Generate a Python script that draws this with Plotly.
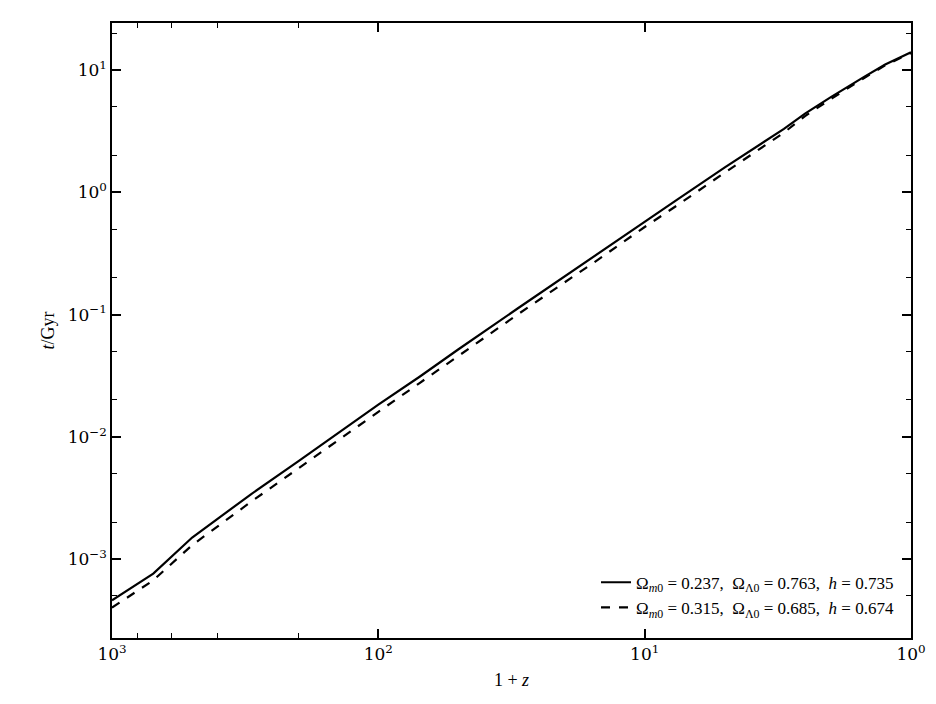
import plotly.graph_objects as go

one_plus_z = [1000, 700, 500, 300, 200, 141.6, 100, 70, 50, 30, 20, 15, 10, 7.5, 5, 4, 3, 2.5, 2, 1.5, 1.25, 1]
t_wmap = [4.6e-4, 7.6e-4, 1.5e-3, 3.4e-3, 6.3e-3, 1.08e-2, 1.83e-2, 3.1e-2, 5.2e-2, 0.112, 0.205, 0.315, 0.58, 0.88, 1.6, 2.2, 3.3, 4.4, 6.0, 8.8, 11.1, 14.0]
t_planck = [4.0e-4, 6.7e-4, 1.3e-3, 2.95e-3, 5.5e-3, 9.4e-3, 1.6e-2, 2.75e-2, 4.6e-2, 0.1, 0.183, 0.28, 0.52, 0.79, 1.45, 2.02, 3.08, 4.2, 5.8, 8.6, 10.95, 13.8]
label_wmap = "Ω<sub><i>m</i>0</sub> = 0.237,  Ω<sub>Λ0</sub> = 0.763,  <i>h</i> = 0.735"
label_planck = "Ω<sub><i>m</i>0</sub> = 0.315,  Ω<sub>Λ0</sub> = 0.685,  <i>h</i> = 0.674"
x_tickvals = [1000, 100, 10, 1]
x_ticktext = ["10<sup>3</sup>", "10<sup>2</sup>", "10<sup>1</sup>", "10<sup>0</sup>"]
y_tickvals = [1e-3, 1e-2, 1e-1, 1, 10]
y_ticktext = ["10<sup>−3</sup>", "10<sup>−2</sup>", "10<sup>−1</sup>", "10<sup>0</sup>", "10<sup>1</sup>"]

fig = go.Figure()
fig.add_trace(go.Scatter(x=one_plus_z, y=t_wmap, mode="lines", name=label_wmap,
                         line=dict(color="black", width=2.2)))
fig.add_trace(go.Scatter(x=one_plus_z, y=t_planck, mode="lines", name=label_planck,
                         line=dict(color="black", width=2.2, dash="dash")))

axis_common = dict(type="log", showgrid=False, zeroline=False, showline=True, mirror="allticks",
                   linecolor="black", linewidth=1.5, ticks="inside", ticklen=9, tickwidth=1.5,
                   tickcolor="black", tickfont=dict(family="DejaVu Serif", size=17, color="black"),
                   minor=dict(ticks="inside", ticklen=5, tickwidth=1, tickcolor="black", showgrid=False))
fig.update_xaxes(**axis_common, range=[3, 0], tickvals=x_tickvals, ticktext=x_ticktext,
                 title=dict(text="1 + <i>z</i>", font=dict(family="Liberation Serif", size=18, color="black"), standoff=10))
fig.update_yaxes(**axis_common, range=[-3.646, 1.385], tickvals=y_tickvals, ticktext=y_ticktext,
                 title=dict(text="<i>t</i>/Gyr", font=dict(family="Liberation Serif", size=18, color="black"), standoff=8))
fig.update_layout(width=936, height=704, plot_bgcolor="white", paper_bgcolor="white",
                  margin=dict(l=104, r=33, t=15, b=74),
                  legend=dict(x=0.985, y=0.02, xanchor="right", yanchor="bottom", bgcolor="rgba(255,255,255,0)",
                              font=dict(family="Liberation Serif", size=17, color="black"), tracegroupgap=4),
                  showlegend=True)
fig.write_html("out.html")
